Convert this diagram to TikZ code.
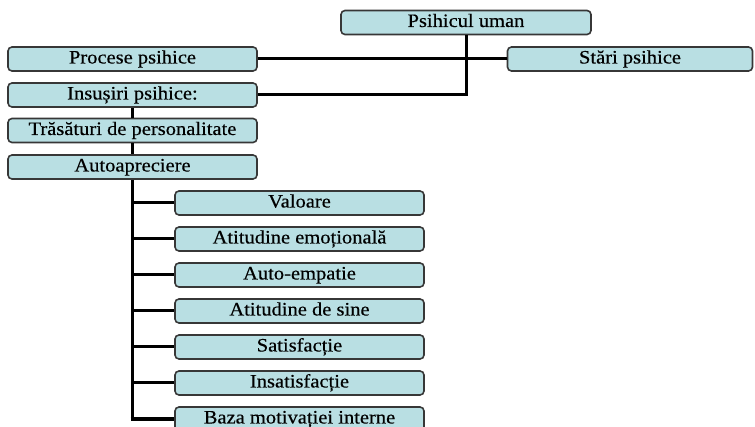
\documentclass[tikz,border=0pt]{standalone}
\usepackage{fontspec}
\setmainfont{Liberation Serif}[FakeStretch=1.08,FakeBold=0.4]
\definecolor{boxfill}{RGB}{185,223,227}
\definecolor{boxline}{RGB}{55,55,55}
\begin{document}
\begin{tikzpicture}[x=1pt,y=-1pt,
  box/.style={draw=boxline, line width=1.6pt, fill=boxfill, rounded corners=4pt,
    minimum height=24pt, inner sep=0pt, text height=10pt, text depth=1pt,
    font=\fontsize{19}{20}\selectfont},
  wide/.style={box, minimum width=249pt},
  conn/.style={line width=3pt, black},
  trunk/.style={line width=3.8pt, black}]
\useasboundingbox (0,0) rectangle (755,427);
\node[box, minimum width=250pt] (psi) at (466,22.5) {Psihicul uman};
\node[wide] (proc) at (132.5,59) {Procese psihice};
\node[box, minimum width=245pt] (stari) at (630,59) {Stări psihice};
\node[wide] (ins) at (132.5,95) {Insușiri psihice:};
\node[wide] (tras) at (132.5,130.5) {Trăsături de personalitate};
\node[wide] (auto) at (132.5,167) {Autoapreciere};
\node[wide] (c1) at (299.5,203) {Valoare};
\node[wide] (c2) at (299.5,239) {Atitudine emoțională};
\node[wide] (c3) at (299.5,275) {Auto-empatie};
\node[wide] (c4) at (299.5,311) {Atitudine de sine};
\node[wide] (c5) at (299.5,347) {Satisfacție};
\node[wide] (c6) at (299.5,383) {Insatisfacție};
\node[wide] (c7) at (299.5,419) {Baza motivației interne};
\draw[conn] (proc.east) -- (stari.west);
\draw[conn] (psi.south) -- (psi.south |- ins.east) -- (ins.east);
\draw[conn] (ins.south) -- (tras.north);
\draw[conn] (tras.south) -- (auto.north);
\draw[trunk] (auto.south) -- (auto.south |- c7.west);
\foreach \c in {c1,c2,c3,c4,c5,c6}
  \draw[conn] (auto.south |- \c.west) -- (\c.west);
\draw[conn] ([xshift=-1.9pt]auto.south |- c7.west) -- (c7.west);
\end{tikzpicture}
\end{document}
